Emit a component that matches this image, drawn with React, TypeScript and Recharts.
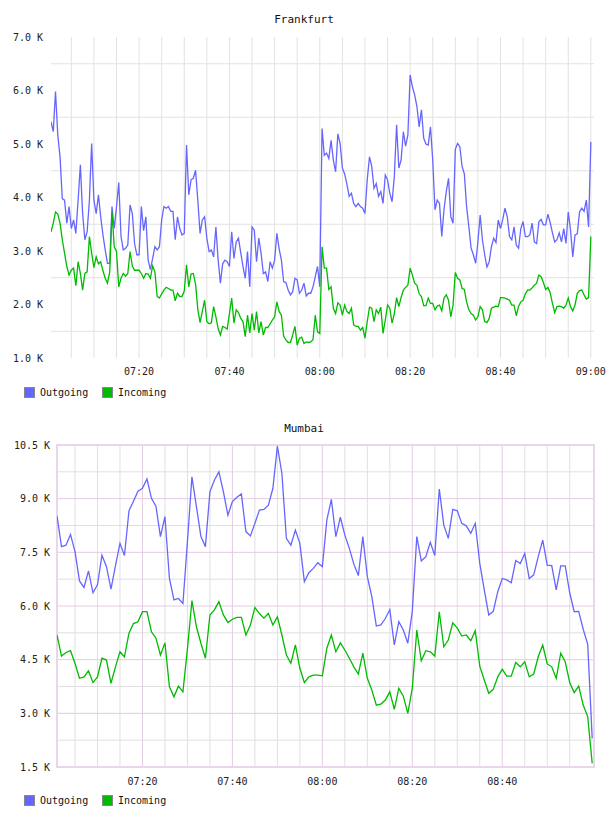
import React from "react";
import { LineChart, Line, XAxis, YAxis, CartesianGrid, ReferenceArea } from "recharts";

// Frankfurt traffic in K, one sample every 30 s from 07:00:30 to 09:00
const frankfurtOut = [
  5.42, 5.23, 5.98, 5.17, 4.76, 3.98, 3.95, 3.52, 3.83, 3.42, 3.58, 3.33, 3.95, 4.61, 3.7, 3.21, 3.36, 3.95, 5.01, 3.95,
  3.7, 4.05, 3.64, 3.3, 3.02, 2.77, 2.77, 3.83, 3.42, 3.83, 4.28, 3.27, 3.02, 3.05, 3.11, 3.86, 3.7, 3.14, 2.93, 2.93,
  3.83, 3.38, 3.64, 2.83, 2.65, 2.86, 3.08, 3.02, 3.08, 3.58, 3.83, 3.8, 3.83, 3.74, 3.74, 3.21, 3.64, 3.42, 3.3, 3.33,
  4.98, 4.05, 4.33, 4.36, 4.51, 3.95, 3.33, 3.58, 3.64, 3.24, 2.99, 3.02, 2.89, 3.45, 2.83, 2.4, 2.76, 2.83, 2.8, 2.71,
  3.36, 2.86, 3.17, 3.24, 2.97, 2.71, 2.49, 2.99, 2.33, 3.45, 3.39, 2.8, 3.24, 2.96, 2.58, 2.61, 2.43, 2.8, 2.68, 2.83,
  3.33, 3.04, 2.83, 2.43, 2.41, 2.27, 2.18, 2.24, 2.49, 2.46, 2.21, 2.27, 2.4, 2.16, 2.21, 2.21, 2.33, 2.52, 2.71, 2.33,
  5.29, 4.79, 4.83, 4.73, 5.07, 4.7, 4.48, 5.19, 5.01, 4.55, 4.44, 4.25, 4.02, 4.08, 3.89, 3.83, 3.89, 3.83, 3.8, 3.7,
  4.33, 4.76, 4.58, 4.17, 4.26, 4.02, 4.11, 3.89, 4.42, 4.33, 4.08, 3.92, 4.39, 5.36, 4.55, 4.7, 5.23, 4.96, 5.17, 6.29,
  6.07, 5.92, 5.7, 5.32, 5.64, 5.11, 5.0, 4.98, 5.32, 4.7, 3.77, 3.95, 3.89, 3.27, 3.78, 4.11, 4.36, 3.64, 3.52, 4.9,
  5.01, 4.95, 4.58, 4.44, 3.83, 3.45, 3.05, 2.93, 2.77, 3.17, 3.67, 3.21, 2.93, 2.7, 2.8, 3.08, 3.24, 3.16, 3.58, 3.42,
  3.59, 3.8, 3.64, 3.27, 3.21, 3.45, 3.11, 3.05, 3.42, 3.55, 3.27, 3.27, 3.3, 3.52, 3.17, 3.14, 3.55, 3.59, 3.49, 3.49,
  3.69, 3.53, 3.34, 3.17, 3.21, 3.34, 3.17, 3.42, 3.14, 3.73, 3.39, 2.89, 3.3, 3.32, 3.73, 3.8, 3.74, 3.95, 3.45, 5.04,
];

const frankfurtIn = [
  3.36, 3.52, 3.73, 3.69, 3.52, 3.21, 2.96, 2.71, 2.55, 2.64, 2.68, 2.35, 2.8, 2.58, 2.27, 2.58, 2.61, 3.27, 2.96, 2.69,
  2.89, 2.76, 2.8, 2.63, 2.49, 2.4, 2.61, 3.73, 3.08, 2.99, 2.33, 2.49, 2.58, 2.53, 2.58, 2.99, 2.72, 2.64, 2.64, 2.64,
  2.58, 2.49, 2.58, 2.57, 2.49, 2.72, 2.61, 2.15, 2.12, 2.2, 2.27, 2.32, 2.3, 2.27, 2.27, 2.07, 2.21, 2.15, 2.15, 2.25,
  2.74, 2.33, 2.57, 2.58, 2.38, 1.91, 1.66, 1.87, 2.08, 1.68, 1.64, 1.66, 1.96, 1.77, 1.55, 1.43, 1.59, 1.57, 1.54, 1.83,
  2.12, 1.65, 1.9, 1.85, 1.74, 1.68, 1.4, 1.8, 1.47, 1.83, 1.52, 1.87, 1.47, 1.68, 1.43, 1.57, 1.57, 1.64, 1.71, 1.77,
  2.05, 1.87, 1.8, 1.41, 1.34, 1.29, 1.29, 1.43, 1.59, 1.24, 1.37, 1.39, 1.27, 1.3, 1.29, 1.3, 1.34, 1.8, 1.49, 1.46,
  3.08, 2.68, 2.68, 2.28, 2.33, 1.93, 1.83, 2.03, 1.99, 1.8, 1.99, 1.87, 1.83, 1.93, 1.62, 1.59, 1.59, 1.52, 1.57, 1.37,
  1.68, 1.95, 1.93, 1.68, 1.9, 1.83, 1.95, 1.46, 1.71, 1.99, 1.93, 1.65, 1.83, 2.13, 1.96, 2.13, 2.27, 2.32, 2.36, 2.68,
  2.55, 2.4, 2.36, 2.2, 2.15, 1.98, 1.98, 2.12, 2.02, 2.02, 1.9, 1.97, 1.99, 1.88, 2.12, 2.18, 2.08, 1.77, 1.99, 2.6,
  2.49, 2.46, 2.3, 2.28, 2.05, 1.9, 1.83, 1.8, 1.71, 1.77, 1.96, 1.9, 1.68, 1.66, 1.74, 1.93, 1.95, 1.97, 1.96, 2.13,
  2.13, 2.12, 2.1, 2.08, 1.99, 1.99, 1.79, 1.97, 2.05, 2.08, 2.2, 2.27, 2.27, 2.31, 2.36, 2.4, 2.55, 2.52, 2.41, 2.28,
  2.32, 2.22, 2.02, 1.85, 1.96, 1.97, 1.96, 1.93, 1.99, 2.12, 1.96, 1.88, 1.99, 2.21, 2.26, 2.27, 2.18, 2.1, 2.13, 3.27,
];

// Mumbai traffic in K, one sample per minute from 07:01 to 09:00
const mumbaiOut = [
  8.52, 7.66, 7.7, 8.0, 7.52, 6.7, 6.52, 6.98, 6.37, 6.59, 7.42, 7.1, 6.47, 7.13, 7.75, 7.41, 8.66, 8.93, 9.21, 9.29,
  9.55, 9.01, 8.79, 7.94, 8.5, 6.77, 6.17, 6.21, 6.07, 7.8, 9.61, 8.78, 7.94, 7.66, 9.19, 9.52, 9.75, 9.19, 8.54, 8.92,
  9.04, 9.13, 8.08, 7.96, 8.31, 8.68, 8.7, 8.82, 9.29, 10.47, 9.71, 7.89, 7.7, 8.12, 7.75, 6.68, 6.93, 7.05, 7.21, 7.1,
  8.4, 8.98, 7.94, 8.48, 7.98, 7.61, 7.17, 6.85, 7.94, 6.82, 6.26, 5.44, 5.47, 5.65, 5.9, 4.91, 5.56, 5.33, 4.96, 5.85,
  7.94, 7.26, 7.38, 7.78, 7.41, 9.27, 8.26, 7.89, 8.7, 8.66, 8.31, 8.24, 8.03, 8.31, 7.19, 6.45, 5.75, 5.85, 6.4, 6.77,
  6.73, 6.65, 7.27, 7.19, 7.47, 6.77, 6.87, 7.38, 7.84, 7.14, 7.13, 6.45, 7.12, 7.12, 6.37, 5.84, 5.85, 5.35, 4.93, 2.3,
];

const mumbaiIn = [
  5.19, 4.6, 4.7, 4.75, 4.4, 3.98, 4.02, 4.19, 3.86, 4.02, 4.54, 4.49, 3.84, 4.3, 4.72, 4.58, 5.24, 5.51, 5.56, 5.84,
  5.84, 5.28, 5.1, 4.63, 4.97, 3.74, 3.46, 3.76, 3.6, 4.8, 6.15, 5.42, 4.96, 4.54, 5.75, 5.89, 6.12, 5.75, 5.54, 5.63,
  5.68, 5.68, 5.19, 5.47, 5.96, 5.79, 5.66, 5.79, 5.47, 5.7, 5.19, 4.63, 4.4, 4.91, 4.26, 3.86, 4.02, 4.07, 4.07, 4.05,
  4.82, 5.19, 4.72, 4.97, 4.77, 4.54, 4.3, 4.1, 4.68, 3.98, 3.65, 3.23, 3.26, 3.37, 3.6, 3.11, 3.7, 3.48, 3.0, 3.7,
  5.33, 4.47, 4.75, 4.72, 4.6, 5.84, 4.86, 5.05, 5.53, 5.38, 5.16, 5.19, 5.03, 5.31, 4.32, 3.93, 3.56, 3.67, 4.02, 4.23,
  4.04, 4.04, 4.42, 4.3, 4.44, 4.02, 4.1, 4.58, 4.91, 4.38, 4.3, 3.98, 4.68, 4.44, 3.86, 3.58, 3.76, 3.23, 2.91, 1.6,
];

// axis ticks (minutes after 07:00, K)
const timeTicksFrankfurt = [20, 40, 60, 80, 100, 120];
const timeTicksMumbai = [20, 40, 60, 80, 100];
const frankfurtYTicks = [1, 2, 3, 4, 5, 6, 7];
const mumbaiYTicks = [1.5, 3, 4.5, 6, 7.5, 9, 10.5];

const fiveMinutes = [5, 10, 15, 20, 25, 30, 35, 40, 45, 50, 55, 60, 65, 70, 75, 80, 85, 90, 95, 100, 105, 110, 115, 120];

const OUT_COLOR = "#6666ff";
const IN_COLOR = "#00bb00";
const FONT = "'DejaVu Sans Mono', monospace";

const frankfurtData = frankfurtOut.map((v, i) => ({ t: 0.5 + i * 0.5, out: v, inc: frankfurtIn[i] }));
const mumbaiData = mumbaiOut.map((v, i) => ({ t: 1 + i, out: v, inc: mumbaiIn[i] }));

const fmtTime = (m: number) => {
  const h = 7 + Math.floor(m / 60);
  const mm = m % 60;
  return `${String(h).padStart(2, "0")}:${String(mm).padStart(2, "0")}`;
};
const fmtK = (v: number) => `${v.toFixed(1)} K`;

const tickStyle = { fill: "#222", fontSize: 10, fontFamily: FONT };

function Legend({ top }: { top: number }) {
  const item = (color: string, label: string, left: number) => (
    <div style={{ position: "absolute", left, top, display: "flex", alignItems: "center" }}>
      <div style={{ width: 9, height: 9, background: color, border: "1px solid #888" }} />
      <span style={{ marginLeft: 5, fontSize: 10, fontFamily: FONT, color: "#111", lineHeight: "11px" }}>{label}</span>
    </div>
  );
  return (
    <>
      {item(OUT_COLOR, "Outgoing", 24)}
      {item(IN_COLOR, "Incoming", 102)}
    </>
  );
}

function Title({ text, top }: { text: string; top: number }) {
  return (
    <div
      style={{
        position: "absolute",
        top,
        left: 0,
        width: 608,
        textAlign: "center",
        fontFamily: FONT,
        fontSize: 11,
        lineHeight: "12px",
        color: "#111",
      }}
    >
      {text}
    </div>
  );
}

export default function App() {
  return (
    <div style={{ position: "absolute", left: 0, top: 0, width: 608, height: 816, background: "#fff" }}>
      <Title text="Frankfurt" top={14} />
      <div style={{ position: "absolute", left: 0, top: 0 }}>
        <LineChart width={608} height={380} data={frankfurtData} margin={{ top: 37, right: 14, bottom: 0, left: 0 }}>
          <CartesianGrid
            stroke="#e2e2e2"
            horizontalValues={[1.5, 2.5, 3.5, 4.5, 5.5, 6.5]}
            verticalValues={fiveMinutes}
          />
          <XAxis
            dataKey="t"
            type="number"
            domain={[0.5, 120.7]}
            ticks={timeTicksFrankfurt}
            tickFormatter={fmtTime}
            axisLine={false}
            tickLine={false}
            tickSize={0}
            tickMargin={10}
            height={22}
            tick={tickStyle}
            interval={0}
            allowDataOverflow
          />
          <YAxis
            type="number"
            domain={[1, 7]}
            ticks={frankfurtYTicks}
            tickFormatter={fmtK}
            axisLine={false}
            tickLine={false}
            tickSize={0}
            tickMargin={8}
            width={51}
            tick={tickStyle}
            interval={0}
          />
          <Line type="linear" dataKey="out" stroke={OUT_COLOR} strokeWidth={1.3} dot={false} isAnimationActive={false} />
          <Line type="linear" dataKey="inc" stroke={IN_COLOR} strokeWidth={1.3} dot={false} isAnimationActive={false} />
        </LineChart>
      </div>
      <Legend top={387} />

      <Title text="Mumbai" top={423} />
      <div style={{ position: "absolute", left: 0, top: 408 }}>
        <LineChart width={608} height={381} data={mumbaiData} margin={{ top: 37, right: 14, bottom: 0, left: 0 }}>
          <CartesianGrid
            stroke="#e0e0e0"
            horizontalValues={[2.25, 3.75, 5.25, 6.75, 8.25, 9.75]}
            verticalValues={fiveMinutes.filter((m) => m % 20 !== 0)}
          />
          <CartesianGrid
            stroke="#e3cbe3"
            horizontalValues={[3, 4.5, 6, 7.5, 9]}
            verticalValues={timeTicksMumbai}
          />
          <ReferenceArea x1={1} x2={120.4} y1={1.5} y2={10.5} fill="none" stroke="#ead6ea" strokeWidth={2} />
          <XAxis
            dataKey="t"
            type="number"
            domain={[1, 120.4]}
            ticks={timeTicksMumbai}
            tickFormatter={fmtTime}
            axisLine={false}
            tickLine={false}
            tickSize={0}
            tickMargin={11}
            height={22}
            tick={tickStyle}
            interval={0}
            allowDataOverflow
          />
          <YAxis
            type="number"
            domain={[1.5, 10.5]}
            ticks={mumbaiYTicks}
            tickFormatter={fmtK}
            axisLine={false}
            tickLine={false}
            tickSize={0}
            tickMargin={7}
            width={57}
            tick={tickStyle}
            interval={0}
          />
          <Line type="linear" dataKey="out" stroke={OUT_COLOR} strokeWidth={1.3} dot={false} isAnimationActive={false} />
          <Line type="linear" dataKey="inc" stroke={IN_COLOR} strokeWidth={1.3} dot={false} isAnimationActive={false} />
        </LineChart>
      </div>
      <Legend top={795} />
    </div>
  );
}
